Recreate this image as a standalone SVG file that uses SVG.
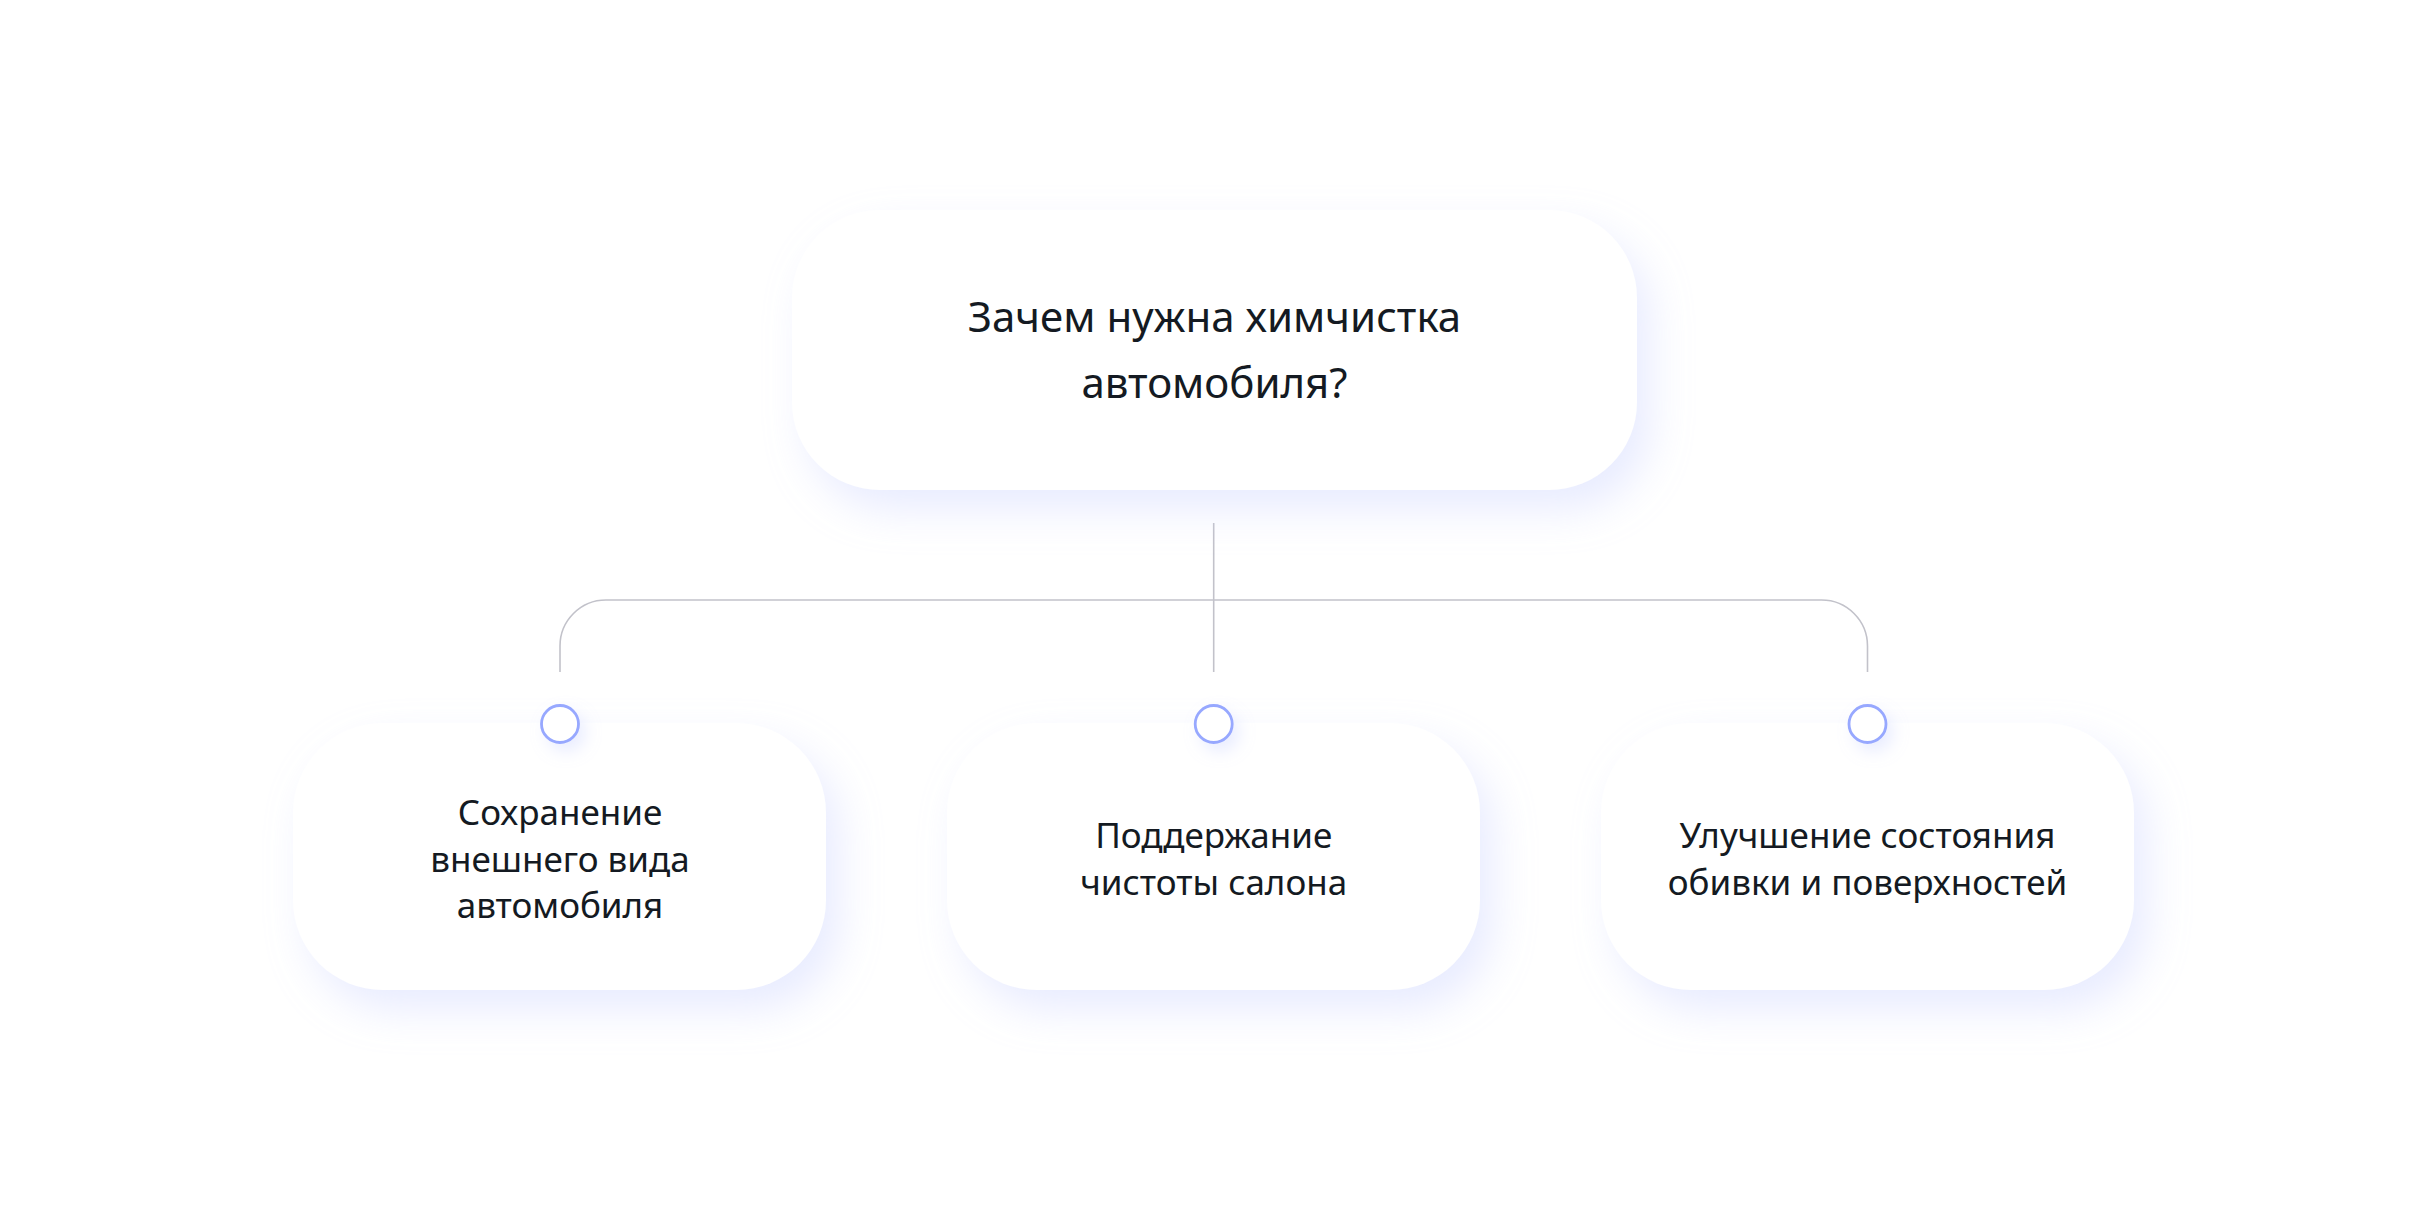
<svg xmlns="http://www.w3.org/2000/svg" width="2430" height="1229" viewBox="0 0 2430 1229">
  <style>
    .box { fill: #ffffff; filter: url(#shadow); }
    .txt { font-family: "Noto Sans", "Inter", "Liberation Sans", sans-serif; font-weight: 400; fill: #141a22; text-anchor: middle; }
    .title { font-size: 42px; }
    .label { font-size: 35px; }
    .conn { fill: none; stroke: #c2c2ca; stroke-width: 1.6; }
    .dot { fill: #ffffff; stroke: #97a8ff; stroke-width: 2.8; filter: url(#dotshadow); }
  </style>
  <defs>
    <filter id="shadow" x="-20%" y="-30%" width="150%" height="170%">
      <feDropShadow dx="14" dy="20" stdDeviation="20" flood-color="#c3ccff" flood-opacity="0.38"/>
    </filter>
    <filter id="dotshadow" x="-100%" y="-100%" width="300%" height="300%">
      <feDropShadow dx="6" dy="8" stdDeviation="8" flood-color="#b9c3ff" flood-opacity="0.3"/>
    </filter>
  </defs>
  <rect width="2430" height="1229" fill="#ffffff"/>

  <g id="connectors">
    <line class="conn" x1="1213.7" y1="523" x2="1213.7" y2="672"/>
    <path class="conn" d="M560 672 V646 A46 46 0 0 1 606 600 H1821.5 A46 46 0 0 1 1867.5 646 V672"/>
  </g>

  <g id="node-root">
    <rect class="box" x="792" y="210" width="845" height="280" rx="88"/>
    <text class="txt title" x="1214.5" y="332">Зачем нужна химчистка</text>
    <text class="txt title" x="1214.5" y="398">автомобиля?</text>
  </g>

  <g id="node-left">
    <rect class="box" x="293" y="723" width="533" height="267" rx="90"/>
    <circle class="dot" cx="560" cy="724" r="18.5"/>
    <text class="txt label" x="560" y="825">Сохранение</text>
    <text class="txt label" x="560" y="872">внешнего вида</text>
    <text class="txt label" x="560" y="918">автомобиля</text>
  </g>

  <g id="node-middle">
    <rect class="box" x="947" y="723" width="533" height="267" rx="90"/>
    <circle class="dot" cx="1213.7" cy="724" r="18.5"/>
    <text class="txt label" x="1213.7" y="848">Поддержание</text>
    <text class="txt label" x="1213.7" y="895">чистоты салона</text>
  </g>

  <g id="node-right">
    <rect class="box" x="1601" y="723" width="533" height="267" rx="90"/>
    <circle class="dot" cx="1867.5" cy="724" r="18.5"/>
    <text class="txt label" x="1867.5" y="848">Улучшение состояния</text>
    <text class="txt label" x="1867.5" y="895">обивки и поверхностей</text>
  </g>
</svg>
